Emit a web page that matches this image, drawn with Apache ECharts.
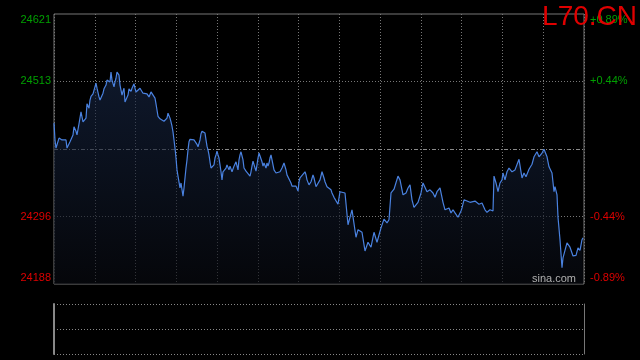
<!DOCTYPE html>
<html>
<head>
<meta charset="utf-8">
<script src="https://cdn.jsdelivr.net/npm/echarts@6/dist/echarts.min.js"></script>
<style>
html,body{margin:0;padding:0;background:#000;}
#c{width:640px;height:360px;}
</style>
</head>
<body>
<div id="c"></div>
<script>
// time index (minutes-like steps across the session)
var times = [0,1,2,3,5,6,8,10,12,13,14,16,17,19,20,22,23,25,27,29,31,32,33,35,36,37,39,41,42,43,45,46,48,49,50,52,53,55,56,57,58,60,61,62,63,64,65,66,68,69,70,71,72,74,75,77,78,80,81,82,84,86,87,89,91,93,95,96,97,99,101,102,103,104,106,108,110,112,113,114,116,117,118,119,120,121,122,123,124,126,127,129,130,131,132,133,134,135,136,138,140,142,143,144,145,146,147,148,149,151,152,153,154,155,156,157,159,160,161,162,163,164,165,166,167,168,169,170,172,173,175,176,178,180,182,184,185,186,187,189,190,192,194,196,197,198,199,200,202,203,204,205,206,207,208,209,210,212,213,214,215,216,217,218,219,220,222,224,226,228,230,231,232,233,234,235,237,238,240,242,244,245,246,248,251,252,253,255,257,259,260,262,264,266,268,270,271,273,275,277,278,280,282,284,286,288,291,294,298,302,304,308,311,314,317,320,323,327,330,333,335,337,340,344,346,349,352,354,356,358,360,364,367,369,373,376,379,381,383,386,388,389,391,393,395,397,399,401,403,404,407,408,410,412,416,418,421,423,425,428,431,433,436,439,440,442,444,446,448,449,451,453,455,458,461,463,465,468,470,472,475,478,480,483,485,488,490,493,495,498,500,501,503,504,506,508,509,511,513,514,516,518,519,522,524,526,528,529];
var prices = [24446,24419,24406,24408,24422,24425,24419,24420,24419,24406,24406,24416,24417,24427,24440,24433,24427,24445,24464,24448,24445,24454,24477,24470,24483,24489,24493,24491,24510,24502,24488,24483,24485,24494,24501,24507,24515,24518,24512,24528,24515,24504,24512,24518,24528,24531,24523,24507,24491,24497,24502,24480,24483,24491,24501,24497,24502,24509,24502,24496,24494,24502,24505,24494,24493,24493,24488,24486,24496,24494,24486,24477,24467,24457,24453,24451,24449,24449,24454,24462,24454,24448,24441,24432,24419,24406,24390,24371,24361,24342,24350,24329,24342,24358,24374,24387,24403,24416,24420,24419,24419,24417,24412,24408,24409,24419,24429,24433,24433,24430,24419,24409,24403,24395,24384,24374,24372,24379,24390,24395,24401,24395,24390,24379,24368,24355,24368,24371,24374,24379,24371,24377,24368,24377,24384,24371,24387,24395,24400,24387,24374,24369,24366,24361,24368,24377,24385,24382,24369,24371,24390,24398,24401,24395,24384,24377,24382,24374,24382,24377,24382,24390,24395,24387,24379,24371,24366,24366,24368,24374,24382,24379,24371,24363,24366,24361,24350,24345,24344,24345,24337,24352,24358,24361,24368,24363,24355,24347,24352,24363,24358,24344,24342,24355,24368,24358,24352,24344,24344,24339,24334,24327,24324,24316,24336,24339,24334,24283,24307,24263,24275,24271,24241,24255,24247,24271,24255,24278,24292,24286,24291,24334,24340,24361,24355,24331,24334,24342,24347,24323,24311,24319,24334,24350,24336,24339,24334,24327,24336,24342,24344,24319,24307,24307,24310,24302,24307,24302,24303,24295,24305,24310,24323,24326,24319,24318,24321,24318,24316,24318,24307,24303,24307,24305,24361,24350,24336,24350,24355,24366,24355,24368,24374,24368,24371,24374,24388,24358,24366,24360,24372,24380,24392,24400,24392,24398,24404,24392,24376,24366,24336,24344,24331,24295,24259,24214,24230,24242,24254,24251,24247,24247,24233,24234,24246,24242,24259,24262];
var prevClose = 24404.5;
var yTicks = [24621, 24513, 24404.5, 24296, 24188];
var leftLabels = ['24621', '24513', '', '24296', '24188'];
var rightLabels = ['+0.89%', '+0.44%', '', '-0.44%', '-0.89%'];
var sessionLen = 530;
var xDivisions = 13;

var pts = times.map(function (t, i) { return [t, prices[i]]; });
var UP = '#00a000', DOWN = '#dd0000';
var FONT = 'Liberation Sans, Arial, sans-serif';

function tickLines(labels, pos, dist, showLine) {
  return yTicks.map(function (v, i) {
    var edge = (i === 0 || i === yTicks.length - 1);
    var mid = v === prevClose;
    var visible = showLine && !edge;
    return {
      yAxis: v,
      lineStyle: {
        color: visible ? (mid ? '#8a8a8a' : '#777') : 'rgba(0,0,0,0)',
        width: 1,
        type: mid ? [4, 2, 1, 2] : [1, 2]
      },
      label: {
        show: labels[i] !== '',
        formatter: labels[i],
        position: pos,
        distance: dist,
        color: v > prevClose ? UP : DOWN,
        fontSize: 11,
        fontFamily: FONT,
        offset: [0, i === 0 ? 6 : (i === yTicks.length - 1 ? -6 : 0)]
      }
    };
  });
}

var chart = echarts.init(document.getElementById('c'), null, {renderer: 'canvas'});
chart.setOption({
  animation: false,
  backgroundColor: '#000',
  title: [{
    text: 'L70.CN', right: 3, top: 3, padding: 0,
    textStyle: {color: '#e00000', fontSize: 28, fontWeight: 'normal', fontFamily: FONT}
  }, {
    text: 'sina.com', left: 532, top: 273, padding: 0,
    textStyle: {color: '#b0b0b0', fontSize: 11, fontWeight: 'normal', fontFamily: FONT}
  }],
  grid: [
    {left: 54, top: 14, width: 530, height: 270, show: true, borderColor: '#777', borderWidth: 1, backgroundColor: 'transparent'},
    {left: 54, top: 304, width: 530, height: 50, show: false}
  ],
  xAxis: [
    {type: 'value', gridIndex: 0, min: 0, max: sessionLen, interval: sessionLen / xDivisions,
      axisLine: {show: false}, axisTick: {show: false}, axisLabel: {show: false},
      splitLine: {show: true, lineStyle: {color: '#777', type: [1, 2]}}},
    {type: 'value', gridIndex: 1, min: 0, max: sessionLen,
      axisLine: {show: false}, axisTick: {show: false}, axisLabel: {show: false}, splitLine: {show: false}}
  ],
  yAxis: [
    {type: 'value', gridIndex: 0, min: 24188, max: 24621,
      axisLine: {show: false}, axisTick: {show: false}, axisLabel: {show: false}, splitLine: {show: false}},
    {type: 'value', gridIndex: 1, min: 0, max: 2, interval: 1, position: 'left',
      axisLine: {show: true, onZero: false, lineStyle: {color: '#888', width: 2}},
      axisTick: {show: false}, axisLabel: {show: false},
      splitLine: {show: true, lineStyle: {color: '#888', type: [1, 2], width: 1}}},
    {type: 'value', gridIndex: 1, min: 0, max: 2, interval: 1, position: 'right',
      axisLine: {show: true, onZero: false, lineStyle: {color: '#777', width: 1}},
      axisTick: {show: false}, axisLabel: {show: false}, splitLine: {show: false}}
  ],
  series: [
    {
      type: 'line', xAxisIndex: 0, yAxisIndex: 0, data: pts,
      showSymbol: false, symbol: 'none', z: 5,
      lineStyle: {color: '#4a82e0', width: 1.2},
      areaStyle: {
        origin: 'start',
        color: new echarts.graphic.LinearGradient(0, 0, 0, 1, [
          {offset: 0, color: 'rgba(24,40,72,0.85)'},
          {offset: 1, color: 'rgba(8,10,16,0.9)'}
        ])
      },
      markLine: {silent: true, symbol: 'none', animation: false, z: 3, data: tickLines(leftLabels, 'start', 3, true)}
    },
    {
      type: 'line', xAxisIndex: 0, yAxisIndex: 0, data: pts,
      showSymbol: false, symbol: 'none', silent: true,
      lineStyle: {color: 'rgba(0,0,0,0)', width: 0},
      markLine: {silent: true, symbol: 'none', animation: false, data: tickLines(rightLabels, 'end', 6, false)}
    },
    {type: 'line', xAxisIndex: 1, yAxisIndex: 1, data: [], showSymbol: false},
    {type: 'line', xAxisIndex: 1, yAxisIndex: 2, data: [], showSymbol: false}
  ]
});
</script>
</body>
</html>
